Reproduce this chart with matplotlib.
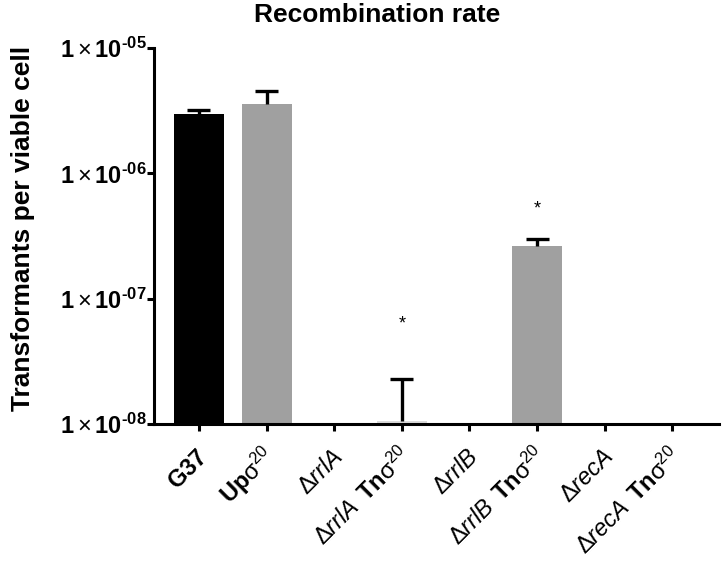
import numpy as np
import matplotlib
matplotlib.use("Agg")
import matplotlib.pyplot as plt
import matplotlib.transforms as mtransforms

# -----------------------------
# DATA
# -----------------------------
labels = [
    r"$\mathbf{G37}$",
    r"$\mathbf{Up}\sigma^{20}$",
    r"$\Delta\mathit{rrlA}$",
    r"$\Delta\mathit{rrlA}\ \,\mathbf{Tn}\sigma^{20}$",
    r"$\Delta\mathit{rrlB}$",
    r"$\Delta\mathit{rrlB}\ \,\mathbf{Tn}\sigma^{20}$",
    r"$\Delta\mathit{recA}$",
    r"$\Delta\mathit{recA}\ \,\mathbf{Tn}\sigma^{20}$",
]
means = [2.96e-6, 3.56e-6, np.nan, 1.05e-8, np.nan, 2.65e-7, np.nan, np.nan]
upper = [3.19e-6, 4.53e-6, np.nan, 2.3e-8, np.nan, 3.02e-7, np.nan, np.nan]
colors = ["#000000", "#a0a0a0", "#a0a0a0", "#dadada", "#a0a0a0", "#a0a0a0", "#a0a0a0", "#a0a0a0"]
stars_at = [3, 5]
star_y = [6.3e-8, 5.2e-7]

ytick_vals = [1e-8, 1e-7, 1e-6, 1e-5]
ytick_labels = [r"$\mathbf{1}\times\mathbf{10^{‐08}}$", r"$\mathbf{1}\times\mathbf{10^{‐07}}$",
                r"$\mathbf{1}\times\mathbf{10^{‐06}}$", r"$\mathbf{1}\times\mathbf{10^{‐05}}$"]

# -----------------------------
# STYLE
# -----------------------------
plt.rcParams["font.family"] = ["Liberation Sans", "DejaVu Sans"]
plt.rcParams["mathtext.fontset"] = "custom"
plt.rcParams["mathtext.rm"] = "Liberation Sans"
plt.rcParams["mathtext.it"] = "Liberation Sans:italic"
plt.rcParams["mathtext.bf"] = "Liberation Sans:bold"
plt.rcParams["mathtext.sf"] = "Liberation Sans"
plt.rcParams["mathtext.default"] = "rm"

fig = plt.figure(figsize=(7.24, 5.61), dpi=100)
ax = fig.add_axes([0.2127, 0.2442, 0.7803, 0.6702])

x = np.arange(len(labels))
bottom = 1e-8
heights = np.array(means) - bottom
ax.bar(x, heights, bottom=bottom, width=0.74, color=colors, edgecolor="none")

# upward-only error bars
m = np.array(means)
u = np.array(upper)
ok = ~np.isnan(m)
ax.vlines(x[ok], m[ok], u[ok], color="black", lw=2.4, zorder=3)
ax.hlines(u[ok], x[ok] - 0.17, x[ok] + 0.17, color="black", lw=2.4, zorder=3)

for i, sy in zip(stars_at, star_y):
    ax.text(i, sy, "*", ha="center", va="center", fontsize=13)

ax.set_yscale("log")
ax.set_ylim(1e-8, 1e-5)
ax.set_xlim(-0.665, 7.69)
ax.set_yticks(ytick_vals)
ax.set_yticklabels(ytick_labels, fontsize=17)
ax.minorticks_off()
ax.set_xticks(x)
ax.set_xticklabels([])

# rotated category labels, anchored on their baseline right end next to each tick
trans = mtransforms.blended_transform_factory(ax.transData, ax.transAxes)
for xi, lab in zip(x, labels):
    ax.text(xi + 0.15, -0.09, lab, transform=trans, rotation=45, rotation_mode="anchor",
            ha="right", va="baseline", fontsize=17, clip_on=False)

ax.tick_params(axis="both", width=2.2, length=5, color="black")
ax.tick_params(axis="y", pad=0.5)
for s in ["top", "right"]:
    ax.spines[s].set_visible(False)
for s in ["left", "bottom"]:
    ax.spines[s].set_linewidth(2.2)

ax.set_ylabel("Transformants per viable cell", fontsize=19, fontweight="bold")
ax.yaxis.set_label_coords(-0.211, 0.521)
fig.text(0.521, 0.973, "Recombination rate", fontsize=19, fontweight="bold", ha="center", va="center")

fig.savefig("out.png", dpi=100)
